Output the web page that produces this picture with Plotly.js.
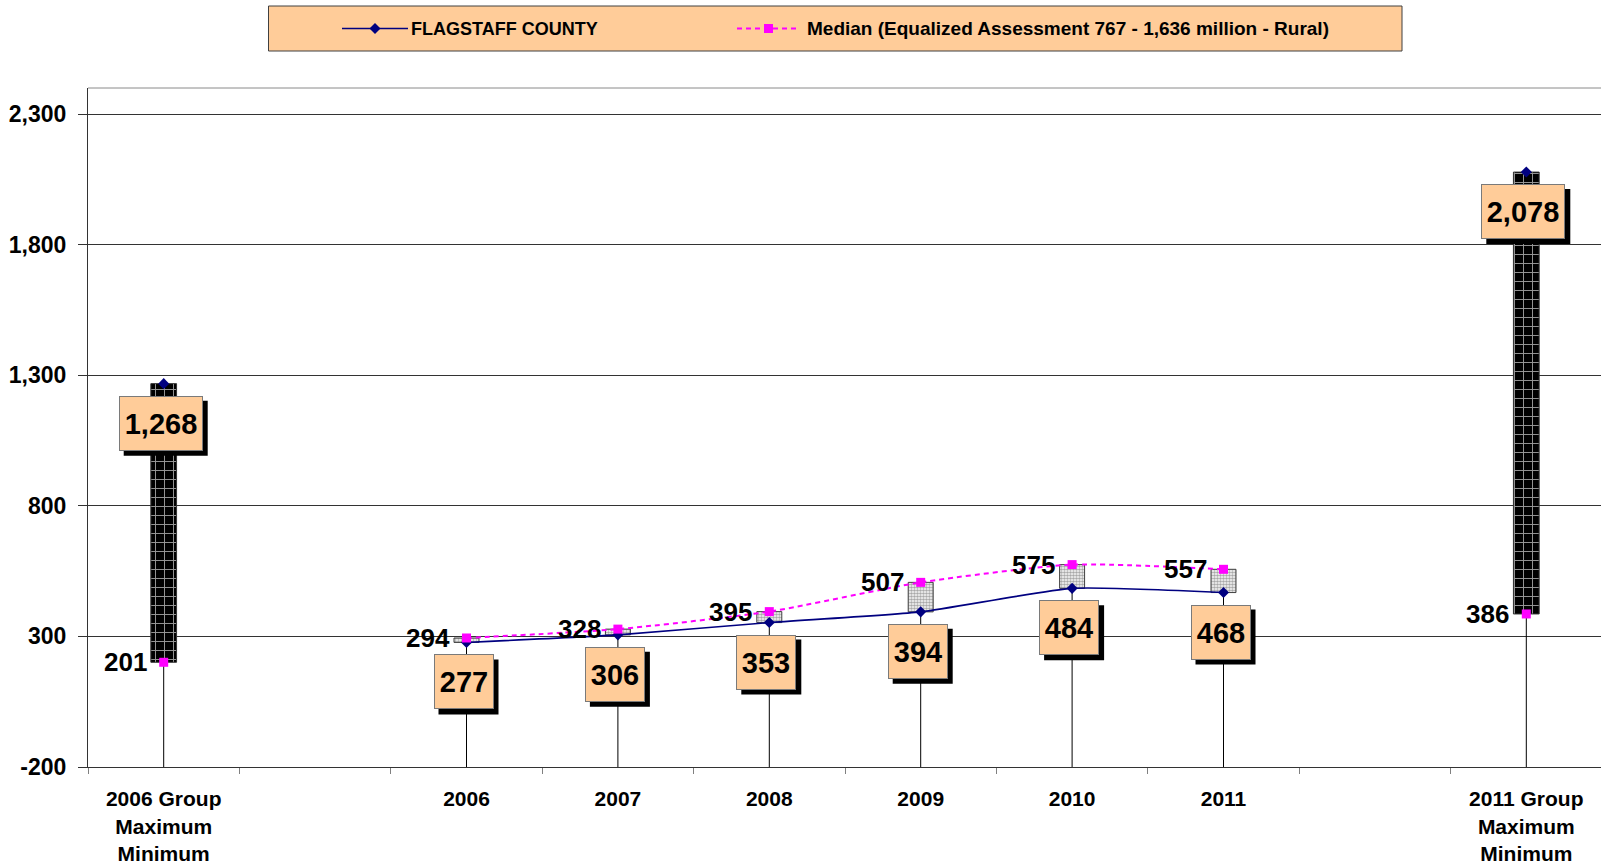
<!DOCTYPE html>
<html><head><meta charset="utf-8">
<script src="https://cdn.plot.ly/plotly-3.0.1.min.js"></script>
<style>html,body{margin:0;padding:0;overflow:hidden;background:#fff}#chart{width:1602px;height:868px}</style>
</head><body><div id="chart"></div>
<script>
// ---- data ----
const categories = ["2006 Group<br>Maximum<br>Minimum", " ", "2006", "2007", "2008", "2009", "2010", "2011", "  ", "2011 Group<br>Maximum<br>Minimum"];
const countyValues = [1268, null, 277, 306, 353, 394, 484, 468, null, 2078];
const medianValues = [201, null, 294, 328, 395, 507, 575, 557, null, 386];
const isGroup = [true, false, false, false, false, false, false, false, false, true];
const yTickVals = [-200, 300, 800, 1300, 1800, 2300];
const yMin = -200, yMax = 2400;
const countyName = "FLAGSTAFF COUNTY";
const medianName = "Median (Equalized Assessment 767 - 1,636 million - Rural)";

// ---- style ----
const FONT = 'Arial, "Liberation Sans", sans-serif';
const W = 1602, H = 868, ML = 88, MT = 88, MB = 101;
const PW = W - ML, PH = H - MT - MB;
const px = x => (x - ML) / PW;
const py = y => (H - MB - y) / PH;
const fmt = v => v.toLocaleString('en-US');

// drop lines
const dropX = [], dropY = [];
categories.forEach((c, i) => {
  if (countyValues[i] === null) return;
  dropX.push(c, c, null);
  dropY.push(Math.min(countyValues[i], medianValues[i]), yMin, null);
});

const groupX = [], groupBase = [], groupLen = [];
const boxX = [], boxBase = [], boxLen = [];
categories.forEach((c, i) => {
  if (countyValues[i] === null) return;
  const lo = Math.min(countyValues[i], medianValues[i]);
  const hi = Math.max(countyValues[i], medianValues[i]);
  if (isGroup[i]) { groupX.push(c); groupBase.push(lo); groupLen.push(hi - lo); }
  else { boxX.push(c); boxBase.push(lo); boxLen.push(hi - lo); }
});

const traces = [
  {type: 'scatter', mode: 'lines', x: dropX, y: dropY, line: {color: '#000', width: 1}, showlegend: false, hoverinfo: 'skip'},
  {type: 'bar', x: groupX, base: groupBase, y: groupLen, width: 0.17, showlegend: false,
   marker: {color: '#000', pattern: {shape: '+', fgcolor: '#9a9a9a', bgcolor: '#000', size: 9, solidity: 0.2, fillmode: 'replace'}, line: {color: '#333', width: 1}}},
  {type: 'bar', x: boxX, base: boxBase, y: boxLen, width: 0.165, showlegend: false,
   marker: {color: '#fff', pattern: {shape: '.', fgcolor: '#a8a8a8', bgcolor: '#fff', size: 3, solidity: 0.6, fillmode: 'replace'}, line: {color: '#404040', width: 1}}},
  {type: 'scatter', mode: 'lines+markers', name: countyName, x: categories, y: countyValues, connectgaps: false,
   line: {color: '#000080', width: 1.6, shape: 'spline', smoothing: 0.5},
   marker: {symbol: 'diamond', size: 8.5, color: '#000080'}},
  {type: 'scatter', mode: 'lines+markers', name: medianName, x: categories, y: medianValues, connectgaps: false,
   line: {color: '#FF00FF', width: 2, dash: '5px,4px', shape: 'spline', smoothing: 0.6},
   marker: {symbol: 'square', size: 9, color: '#FF00FF'}}
];

const shapes = [];
const annotations = [];
// top border of plot area
shapes.push({type: 'line', xref: 'paper', yref: 'paper', x0: 0, x1: 1, y0: 1, y1: 1, line: {color: '#8a8a8a', width: 1}});

categories.forEach((c, i) => {
  const v = countyValues[i];
  if (v === null) return;
  const txt = fmt(v);
  const w = txt.length > 3 ? 84 : 60;
  shapes.push({type: 'rect', xref: 'x', yref: 'y', xsizemode: 'pixel', ysizemode: 'pixel', xanchor: i, yanchor: v,
    x0: -w / 2 - 3 + 5, x1: w / 2 - 3 + 5, y0: -17, y1: -72, fillcolor: '#000', line: {width: 0}, layer: 'above'});
  annotations.push({x: i, y: v, xref: 'x', yref: 'y', text: txt, showarrow: false, xanchor: 'center', yanchor: 'top',
    xshift: -3, yshift: -12, bgcolor: '#FFCC99', bordercolor: '#7a7a7a', borderwidth: 1, borderpad: 0,
    width: w - 2, height: 53, font: {family: FONT, size: 29, color: '#000', weight: 'bold'}});
  const m = medianValues[i];
  annotations.push({x: i, y: m, xref: 'x', yref: 'y', text: fmt(m), showarrow: false, xanchor: 'right', yanchor: 'middle',
    xshift: -15, font: {family: FONT, size: 26, color: '#000', weight: 'bold'}});
});

// manual legend
shapes.push({type: 'rect', xref: 'paper', yref: 'paper', x0: px(268.5), x1: px(1402), y0: py(6), y1: py(51),
  fillcolor: '#FFCC99', line: {color: '#404040', width: 1}});
const ly = 28.5;
shapes.push({type: 'line', xref: 'paper', yref: 'paper', x0: px(342), x1: px(408), y0: py(ly), y1: py(ly), line: {color: '#000080', width: 1.6}});
shapes.push({type: 'path', xref: 'paper', yref: 'paper', fillcolor: '#000080', line: {width: 0},
  path: `M${px(375)},${py(ly - 5.5)} L${px(380.5)},${py(ly)} L${px(375)},${py(ly + 5.5)} L${px(369.5)},${py(ly)} Z`});
shapes.push({type: 'line', xref: 'paper', yref: 'paper', x0: px(737), x1: px(800), y0: py(ly), y1: py(ly), line: {color: '#FF00FF', width: 2, dash: '5px,4px'}});
shapes.push({type: 'rect', xref: 'paper', yref: 'paper', x0: px(764), x1: px(773), y0: py(ly - 4.5), y1: py(ly + 4.5), fillcolor: '#FF00FF', line: {width: 0}});
annotations.push({xref: 'paper', yref: 'paper', x: px(409), y: py(ly), xanchor: 'left', yanchor: 'middle', showarrow: false,
  text: countyName, font: {family: FONT, size: 18, color: '#000', weight: 'bold'}});
annotations.push({xref: 'paper', yref: 'paper', x: px(805), y: py(ly), xanchor: 'left', yanchor: 'middle', showarrow: false,
  text: medianName, font: {family: FONT, size: 19, color: '#000', weight: 'bold'}});

const layout = {
  width: W, height: H,
  margin: {l: ML, r: 0, t: MT, b: MB, pad: 0},
  paper_bgcolor: '#fff', plot_bgcolor: '#fff',
  showlegend: false, barmode: 'overlay', hovermode: false,
  font: {family: FONT, color: '#000'},
  xaxis: {type: 'category', categoryorder: 'array', categoryarray: categories, range: [-0.5, 9.5],
    tickson: 'boundaries', ticks: 'outside', ticklen: 6, tickcolor: '#808080', tickwidth: 1,
    showgrid: false, showline: true, linecolor: '#333', linewidth: 1, zeroline: false,
    ticklabelstandoff: 13, tickfont: {family: FONT, size: 21, color: '#000', weight: 'bold'}},
  yaxis: {range: [yMin, yMax], tickmode: 'array', tickvals: yTickVals, ticktext: yTickVals.map(fmt),
    ticks: 'outside', ticklen: 9, tickcolor: '#333', showgrid: true, gridcolor: '#333', gridwidth: 1,
    showline: true, linecolor: '#333', linewidth: 1, zeroline: false, ticklabelstandoff: 7,
    tickfont: {family: FONT, size: 23, color: '#000', weight: 'bold'}},
  shapes: shapes,
  annotations: annotations
};

Plotly.newPlot('chart', traces, layout, {staticPlot: true, displayModeBar: false});
</script>
</body></html>
